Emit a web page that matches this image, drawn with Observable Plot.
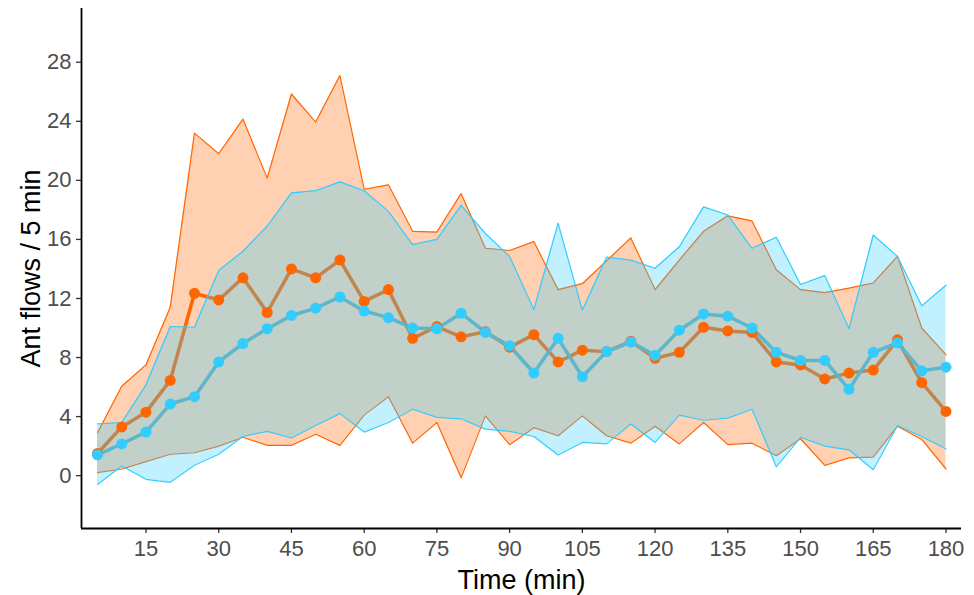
<!DOCTYPE html>
<html>
<head>
<meta charset="utf-8">
<script src="https://cdn.jsdelivr.net/npm/d3@7"></script>
<script src="https://cdn.jsdelivr.net/npm/@observablehq/plot@0.6"></script>
<style>
  html, body { margin: 0; padding: 0; background: #ffffff; }
  #chart svg { display: block; }
</style>
</head>
<body>
<div id="chart"></div>
<script>
// ---- data ----
const time = [5, 10, 15, 20, 25, 30, 35, 40, 45, 50, 55, 60, 65, 70, 75, 80, 85, 90,
              95, 100, 105, 110, 115, 120, 125, 130, 135, 140, 145, 150, 155, 160, 165, 170, 175, 180];

const orangeMean = [1.5, 3.3, 4.3, 6.45, 12.35, 11.9, 13.4, 11.05, 14.0, 13.4, 14.6, 11.8,
                    12.6, 9.3, 10.1, 9.4, 9.75, 8.7, 9.55, 7.7, 8.5, 8.4, 9.1, 7.95,
                    8.35, 10.05, 9.8, 9.7, 7.7, 7.5, 6.55, 6.95, 7.15, 9.2, 6.3, 4.35];
const orangeHigh = [2.9, 6.05, 7.5, 11.4, 23.2, 21.8, 24.15, 20.15, 25.85, 23.95, 27.1, 19.4,
                    19.7, 16.55, 16.5, 19.1, 15.4, 15.25, 15.85, 12.6, 13.0, 14.55, 16.1, 12.6,
                    14.6, 16.55, 17.6, 17.25, 13.95, 12.6, 12.4, 12.7, 13.05, 14.85, 10.0, 8.2];
const orangeLow  = [0.2, 0.45, 0.95, 1.45, 1.55, 2.0, 2.6, 2.05, 2.05, 2.8, 2.05, 4.1,
                    5.35, 2.2, 3.6, -0.15, 4.05, 2.1, 3.25, 2.7, 4.05, 2.7, 2.2, 3.35,
                    2.15, 3.6, 2.1, 2.2, 1.35, 2.5, 0.7, 1.2, 1.25, 3.35, 2.45, 0.45];

const blueMean = [1.4, 2.15, 2.95, 4.85, 5.35, 7.7, 8.95, 9.95, 10.85, 11.35, 12.1, 11.15,
                  10.7, 10.0, 9.95, 11.0, 9.7, 8.8, 6.95, 9.3, 6.7, 8.4, 9.05, 8.15,
                  9.85, 10.95, 10.8, 10.0, 8.35, 7.8, 7.8, 5.85, 8.35, 9.0, 7.1, 7.35];
const blueHigh = [3.5, 3.6, 6.15, 10.1, 10.05, 13.9, 15.2, 16.9, 19.15, 19.3, 19.9, 19.3,
                  17.9, 15.65, 16.0, 18.3, 16.4, 14.85, 11.25, 17.1, 11.2, 14.8, 14.6, 14.05,
                  15.5, 18.2, 17.65, 15.4, 16.15, 12.95, 13.55, 9.95, 16.3, 14.85, 11.5, 12.9];
const blueLow  = [-0.6, 0.65, -0.25, -0.45, 0.7, 1.45, 2.65, 3.0, 2.55, 3.4, 4.2, 2.95,
                  3.6, 4.5, 3.95, 3.85, 3.15, 3.0, 2.65, 1.4, 2.25, 2.15, 3.5, 2.25,
                  4.1, 3.75, 3.9, 4.5, 0.6, 2.6, 2.0, 1.75, 0.4, 3.4, 2.65, 1.8];

const xTicks = [15, 30, 45, 60, 75, 90, 105, 120, 135, 150, 165, 180];
const yTicks = [0, 4, 8, 12, 16, 20, 24, 28];

const xLabel = "Time (min)";
const yLabel = "Ant flows / 5 min";

// ---- styling ----
const ORANGE = "#ff6600";
const BLUE = "#33ccff";
const xDomain = [1.7, 183.2];
const yDomain = [-3.58, 31.64];

const data = time.map((t, i) => ({
  t,
  oMean: orangeMean[i], oHi: orangeHigh[i], oLo: orangeLow[i],
  bMean: blueMean[i], bHi: blueHigh[i], bLo: blueLow[i]
}));

const chart = Plot.plot({
  width: 974,
  height: 595,
  marginLeft: 81,
  marginRight: 13,
  marginTop: 8,
  marginBottom: 67,
  style: { fontFamily: "'Liberation Sans', Arial, Helvetica, sans-serif", background: "#ffffff" },
  x: { domain: xDomain },
  y: { domain: yDomain },
  marks: [
    // mean lines (drawn beneath the ribbons, as in the reference)
    Plot.line(data, { x: "t", y: "oMean", stroke: ORANGE, strokeWidth: 3.5 }),
    Plot.line(data, { x: "t", y: "bMean", stroke: BLUE, strokeWidth: 3.5 }),
    // orange ribbon
    Plot.areaY(data, { x: "t", y1: "oLo", y2: "oHi", fill: ORANGE, fillOpacity: 0.3 }),
    Plot.line(data, { x: "t", y: "oHi", stroke: ORANGE, strokeWidth: 1.2 }),
    Plot.line(data, { x: "t", y: "oLo", stroke: ORANGE, strokeWidth: 1.2 }),
    // blue ribbon
    Plot.areaY(data, { x: "t", y1: "bLo", y2: "bHi", fill: BLUE, fillOpacity: 0.3 }),
    Plot.line(data, { x: "t", y: "bHi", stroke: BLUE, strokeWidth: 1.2 }),
    Plot.line(data, { x: "t", y: "bLo", stroke: BLUE, strokeWidth: 1.2 }),
    // points
    Plot.dot(data, { x: "t", y: "oMean", r: 5.5, fill: ORANGE }),
    Plot.dot(data, { x: "t", y: "bMean", r: 5.5, fill: BLUE }),
    // axes
    Plot.axisX({ ticks: xTicks, tickSize: 5, tickPadding: 7, fontSize: 22, fill: "#4d4d4d", stroke: "#333333", strokeWidth: 1.3, label: null }),
    Plot.axisY({ ticks: yTicks, tickSize: 5, tickPadding: 5, fontSize: 22, fill: "#4d4d4d", stroke: "#333333", strokeWidth: 1.3, label: null }),
    Plot.ruleX([xDomain[0]], { stroke: "#000000", strokeWidth: 1.8 }),
    Plot.ruleY([yDomain[0]], { stroke: "#000000", strokeWidth: 1.8 }),
    // axis titles
    Plot.text([xLabel], { text: d => d, frameAnchor: "bottom", textAnchor: "middle", lineAnchor: "top", dy: 41, fontSize: 27, fill: "#000000" }),
    Plot.text([yLabel], { text: d => d, frameAnchor: "left", textAnchor: "middle", lineAnchor: "middle", rotate: -90, dx: -50, fontSize: 27, fill: "#000000" })
  ]
});

document.getElementById("chart").appendChild(chart);
</script>
</body>
</html>
